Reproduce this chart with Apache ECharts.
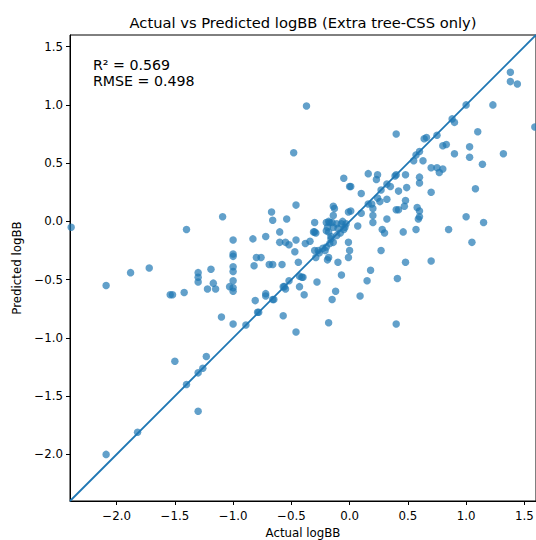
<!DOCTYPE html>
<html>
<head>
<meta charset="utf-8">
<script src="https://cdn.jsdelivr.net/npm/echarts@6/dist/echarts.min.js"></script>
<style>html,body{margin:0;padding:0;background:#fff}#chart{width:536px;height:540px}</style>
</head>
<body>
<div id="chart"></div>
<script>
// ---- data ----
const actual = [
-2.39,-2.09,-2.09,-1.88,-1.72,-1.82,-1.54,-1.52,-1.50,-1.42,
-1.40,-1.40,-1.30,-1.26,-1.23,-1.30,-1.30,-1.30,-1.30,-1.19,
-1.17,-1.22,-1.15,-1.09,-1.10,-1.00,-0.89,-1.00,-1.00,-1.00,
-1.00,-1.00,-1.00,-1.03,-1.00,-1.00,-0.83,-0.82,-0.80,-0.76,
-0.72,-0.67,-0.66,-0.60,-0.60,-0.55,-0.52,-0.54,-0.47,-0.46,
-0.46,-0.69,-0.66,-0.58,-0.44,-0.81,-0.72,-0.72,-0.66,-0.65,
-0.79,-0.78,-0.57,-0.56,-0.55,-0.52,-0.57,-0.46,-0.43,-0.43,
-0.48,-0.37,1.38,1.38,1.44,1.23,1.00,1.59,0.88,0.90,
1.10,0.40,0.64,0.66,0.75,0.80,0.83,1.03,1.03,0.90,
1.32,1.14,0.60,0.57,0.55,0.63,0.70,0.75,0.77,0.80,
-0.05,0.00,0.01,0.16,0.24,0.23,0.40,0.39,0.48,0.60,
0.60,0.32,0.35,0.27,0.10,0.42,0.49,0.70,1.08,0.24,
0.26,0.32,0.16,0.19,0.48,0.47,0.40,0.42,0.58,0.60,
0.59,0.60,-0.14,-0.13,-0.14,-0.01,0.01,0.10,0.20,0.20,
0.20,0.32,0.28,0.30,0.46,0.57,0.85,1.00,1.15,1.05,
-0.30,-0.20,-0.17,-0.31,-0.30,-0.29,0.07,-0.01,0.00,-0.01,
-0.10,-0.38,-0.34,-0.30,-0.27,-0.23,-0.21,-0.20,-0.17,-0.14,
-0.16,-0.29,-0.18,0.27,0.48,0.70,0.18,0.15,0.41,0.40,
-0.19,-0.40,-0.41,-0.39,-0.28,-0.07,-0.12,-0.15,0.09,-0.18,
-0.18,-0.19,-0.15,-0.20,-0.18,-0.14,-0.11,-0.10,-0.07,-0.06,
-0.05,-0.08,-0.11,-0.16,-0.04,-0.03,-0.26
];
const predicted = [
-0.05,-0.55,-2.00,-0.44,-0.40,-1.81,-0.63,-0.63,-1.20,-0.61,
-0.07,-1.40,-1.30,-1.26,-1.16,-1.63,-0.44,-0.48,-0.52,-0.41,
-0.53,-0.58,-0.58,0.04,-0.82,-0.88,-0.89,-0.16,-0.28,-0.30,
-0.39,-0.43,-0.51,-0.56,-0.57,-0.60,-0.15,-0.38,-0.31,-0.31,
-0.13,0.08,0.01,-0.09,-0.18,-0.18,-0.20,0.02,-0.26,0.14,
-0.16,-0.37,-0.37,-0.37,-0.35,-0.68,-0.62,-0.64,-0.67,-0.67,
-0.78,-0.78,-0.56,-0.56,-0.58,-0.51,-0.81,-0.95,-0.56,-0.47,
0.59,0.99,1.28,1.20,1.18,1.00,1.00,0.81,0.88,0.85,
0.77,0.75,0.71,0.72,0.74,0.65,0.66,0.64,0.55,0.58,
0.58,0.49,0.60,0.57,0.52,0.52,0.46,0.46,0.42,0.45,
0.37,0.30,0.30,0.41,0.40,0.36,0.40,0.39,0.40,0.38,
0.33,0.32,0.30,0.27,0.24,0.26,0.29,0.25,0.28,0.20,
0.17,0.19,0.15,0.15,0.18,0.13,0.10,0.10,0.12,0.09,
0.02,0.04,0.13,0.11,0.05,0.08,0.09,0.07,0.11,0.05,
-0.01,0.02,-0.07,-0.10,-0.09,-0.07,-0.07,0.04,-0.01,-0.18,
-0.01,-0.01,-0.01,-0.09,-0.09,-0.10,-0.04,-0.18,-0.25,-0.31,
-0.35,-0.19,-0.17,-0.25,-0.25,-0.23,-0.25,-0.22,-0.19,-0.18,
-0.15,-0.31,-0.31,-0.25,-0.35,-0.34,-0.42,-0.51,-0.49,-0.88,
-0.33,-0.48,-0.48,-0.63,-0.52,-0.46,-0.60,-0.67,-0.64,-0.87,
0.00,-0.05,-0.01,-0.08,-0.09,-0.05,-0.02,-0.06,-0.02,0.00,
-0.07,-0.10,-0.12,-0.13,-0.05,-0.02,-0.27
];
const identityLine = [-2.4, 1.6];
const tickValues = [-2.0, -1.5, -1.0, -0.5, 0.0, 0.5, 1.0, 1.5];
const titleText = 'Actual vs Predicted logBB (Extra tree-CSS only)';
const statsLines = ['R\u00b2 = 0.569', 'RMSE = 0.498'];

const points = actual.map((a, i) => [a, predicted[i]]);
const linePts = identityLine.map(v => [v, v]);
const fmt = v => v.toFixed(1).replace('-', '\u2212');
const FONT = 'DejaVu Sans';
const TICK_FS = 11.8;

const chart = echarts.init(document.getElementById('chart'), null, {renderer: 'svg'});
const axisCommon = {
  type: 'value', min: -2.4, max: 1.6,
  splitLine: {show: false},
  axisLine: {show: true, onZero: false, lineStyle: {color: '#000', width: 1}},
  axisTick: {show: true, length: 4, lineStyle: {color: '#000', width: 1}, customValues: tickValues},
  axisLabel: {color: '#000', fontFamily: FONT, fontSize: TICK_FS, customValues: tickValues, formatter: fmt},
  nameLocation: 'middle',
  nameTextStyle: {color: '#000', fontFamily: FONT, fontSize: TICK_FS}
};
chart.setOption({
  animation: false,
  grid: {left: 70, right: 0, top: 35, bottom: 39, outerBoundsMode: 'none', containLabel: false, show: true, borderColor: '#000', borderWidth: 1, backgroundColor: 'transparent'},
  xAxis: Object.assign({}, axisCommon, {
    name: 'Actual logBB', nameGap: 26,
    axisLabel: Object.assign({}, axisCommon.axisLabel, {margin: 9})
  }),
  yAxis: Object.assign({}, axisCommon, {
    name: 'Predicted logBB', nameGap: 46,
    axisLabel: Object.assign({}, axisCommon.axisLabel, {margin: 7})
  }),
  series: [
    {
      type: 'scatter', data: points, symbolSize: 7.5,
      itemStyle: {color: '#1f77b4', opacity: 0.7}
    },
    {
      type: 'line', data: linePts, symbol: 'none', z: 3,
      lineStyle: {color: '#1f77b4', width: 1.8}
    }
  ],
  graphic: [
    {type: 'text', x: 303, y: 22, style: {text: titleText, fill: '#000', font: '14.7px "DejaVu Sans"', align: 'center', verticalAlign: 'middle', textAlign: 'center', textVerticalAlign: 'middle'}},
    {type: 'text', x: 93, y: 57, style: {text: statsLines.join('\n'), fill: '#000', font: '14.2px "DejaVu Sans"', lineHeight: 16}}
  ]
});
</script>
</body>
</html>
